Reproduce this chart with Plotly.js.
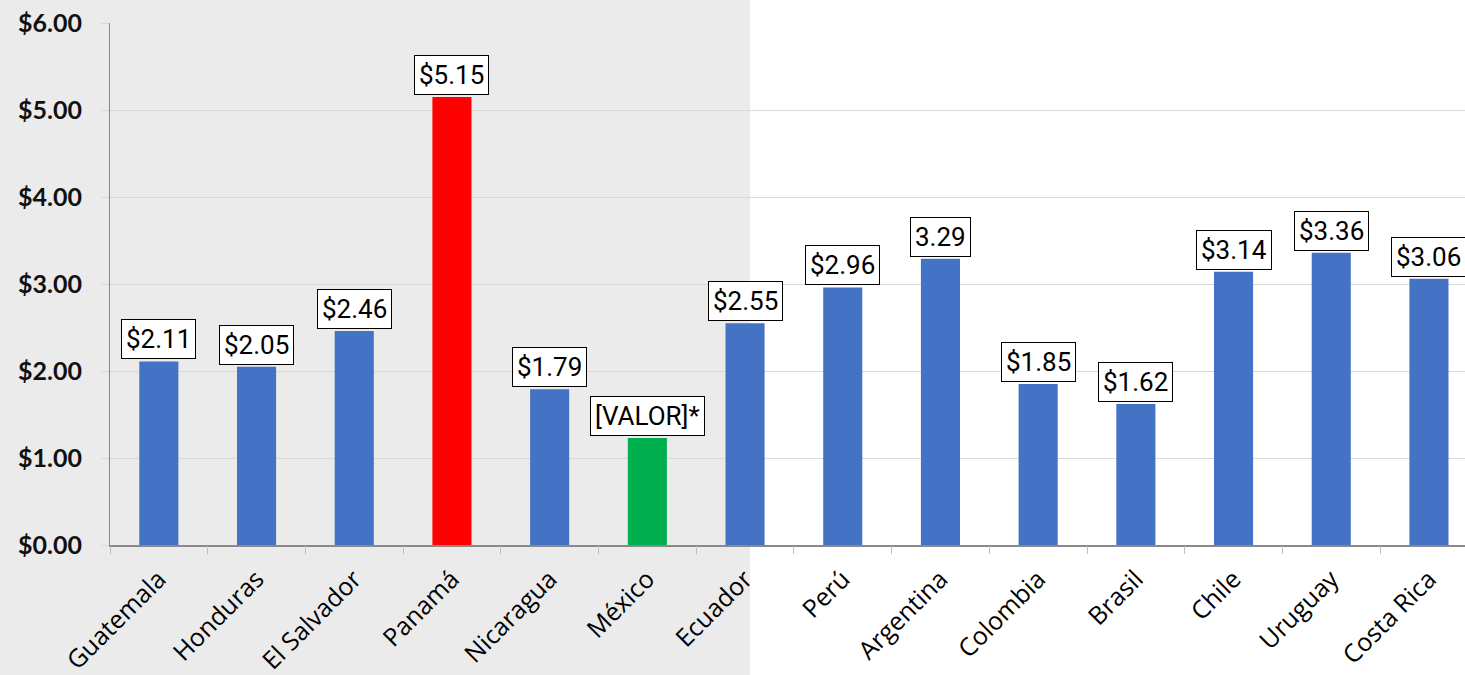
<!DOCTYPE html>
<html><head><meta charset="utf-8">
<script src="https://cdn.plot.ly/plotly-3.0.1.min.js"></script>
<style>html,body{margin:0;padding:0;background:#fff}#c{width:1465px;height:675px}</style>
</head><body><div id="c"></div>
<script>
const categories = ["Guatemala","Honduras","El Salvador","Panamá","Nicaragua","México","Ecuador","Perú","Argentina","Colombia","Brasil","Chile","Uruguay","Costa Rica"];
const values = [2.11,2.05,2.46,5.15,1.79,1.23,2.55,2.96,3.29,1.85,1.62,3.14,3.36,3.06];
const labels = ["$2.11","$2.05","$2.46","$5.15","$1.79","[VALOR]*","$2.55","$2.96","3.29","$1.85","$1.62","$3.14","$3.36","$3.06"];
const colors = ["#4472c4","#4472c4","#4472c4","#ff0000","#4472c4","#00b050","#4472c4","#4472c4","#4472c4","#4472c4","#4472c4","#4472c4","#4472c4","#4472c4"];
const yTicks = [0,1,2,3,4,5,6];

const L=110, R=0, T=23, B=130, W=1465, H=675;
const pw = W-L-R, ph = H-T-B;
const catW = 97.7;
const idx = categories.map((c,i)=>i);
const bounds = categories.map((c,i)=>i-0.5).concat([categories.length-0.5]);

const annotations = categories.map((c,i)=>({
  x:i, y:values[i], xref:'x', yref:'y', text:labels[i], showarrow:false,
  yanchor:'bottom', yshift:2, bgcolor:'#ffffff', bordercolor:'#000000', borderwidth:1, borderpad:4,
  font:{family:'Roboto, Arial, sans-serif', size:26, color:'#000'}
}));

Plotly.newPlot('c',[{
  type:'bar', x:idx, y:values, marker:{color:colors}, width:0.40, hoverinfo:'none'
},{
  type:'scatter', mode:'markers', x:bounds, y:bounds.map(()=>0), xaxis:'x2', marker:{opacity:0}, hoverinfo:'none'
}],{
  width:W, height:H, margin:{l:L,r:R,t:T,b:B},
  paper_bgcolor:'#ffffff', plot_bgcolor:'rgba(0,0,0,0)',
  showlegend:false,
  shapes:[{type:'rect', xref:'paper', yref:'paper', layer:'below',
    x0:-L/pw, x1:(750-L)/pw, y0:-B/ph, y1:1+T/ph, fillcolor:'#ebebeb', line:{width:0}}],
  xaxis:{type:'linear', range:[-0.5, -0.5+pw/catW], tickmode:'array',
    tickvals:idx, ticktext:categories,
    ticks:'', showline:true, linecolor:'#898989', linewidth:1.5, showgrid:false, zeroline:false, tickangle:-45,
    tickfont:{family:'Open Sans, sans-serif', size:25, color:'#000'}, ticklabelstandoff:8, fixedrange:true},
  xaxis2:{overlaying:'x', anchor:'y', type:'linear', range:[-0.5, -0.5+pw/catW], tickmode:'array',
    tickvals:bounds, ticktext:bounds.map(()=>''),
    ticks:'outside', ticklen:8, tickcolor:'#bfbfbf', showline:false, showgrid:false, zeroline:false, side:'bottom'},
  yaxis:{range:[0,6], tickvals:yTicks, ticktext:yTicks.map(v=>'$'+v.toFixed(2)),
    showline:true, linecolor:'#898989', linewidth:1, gridcolor:'#d9d9d9', gridwidth:1,
    ticks:'outside', ticklen:8, tickcolor:'#d9d9d9', zeroline:false,
    tickfont:{family:'Lato, sans-serif', size:25, color:'#111', weight:'bold'}, ticklabelstandoff:14},
  annotations:annotations
},{staticPlot:true});
</script></body></html>
